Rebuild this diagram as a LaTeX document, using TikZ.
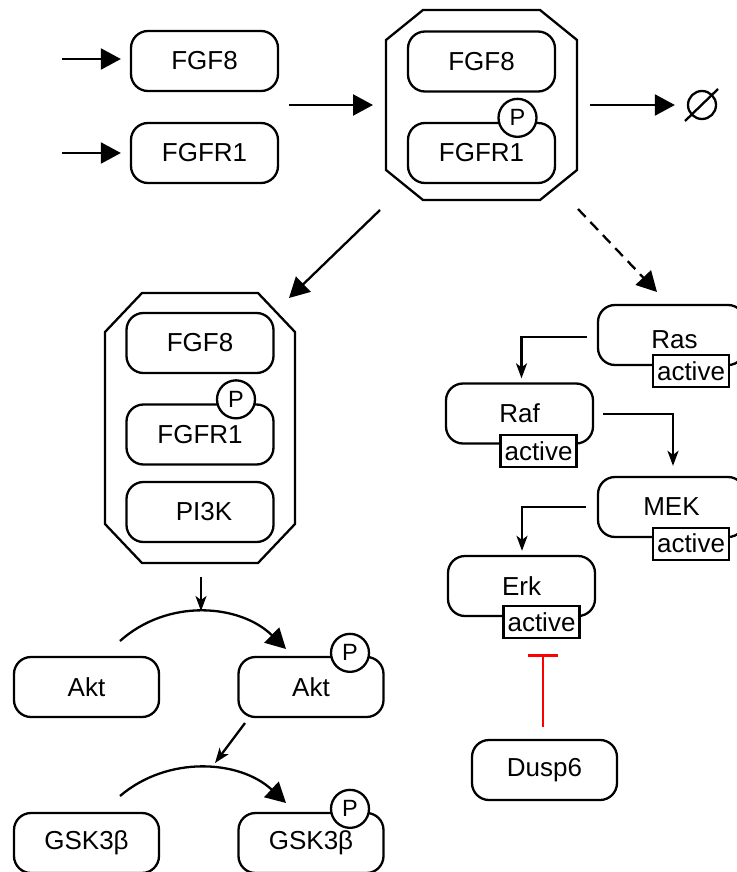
\documentclass[tikz,border=0pt]{standalone}
\usepackage{fontspec}
\setmainfont{Liberation Sans}
\usetikzlibrary{arrows.meta,calc}
\begin{document}
\begin{tikzpicture}[x=1pt,y=-1pt,
  every node/.style={font=\fontsize{26}{30}\selectfont},
  species/.style={draw, rounded corners=17pt, line width=2.3pt, minimum width=147pt, minimum height=60pt, inner sep=0pt, fill=white},
  pcirc/.style={draw, circle, line width=2.3pt, fill=white, minimum size=38pt, inner sep=0pt, font=\fontsize{23.5}{26}\selectfont},
  actbox/.style={draw, rectangle, line width=2.3pt, fill=white, inner xsep=4pt, inner ysep=0pt, minimum height=32pt},
  cplx/.style={line width=2.3pt, line join=miter},
  bigarr/.style={line width=2.3pt, -{Triangle[length=20pt,width=21pt]}},
  smallarr/.style={line width=2.3pt, -{Stealth[length=15pt,width=11pt,inset=4pt]}},
  inhib/.style={line width=2.3pt, draw=red, -{Bar[width=30pt]}},
]
\useasboundingbox (0,0) rectangle (736,872);

% ---------- top left inputs ----------
\node[species] (fgf8a) at (204.5,61) {FGF8};
\node[species] (fgfr1a) at (204.5,153) {FGFR1};
\coordinate (in1) at (62,59);
\coordinate (in2) at (62,153);
\draw[bigarr] (in1) -- ($(fgf8a.west)+(-9,-2)$);
\draw[bigarr] (in2) -- ($(fgfr1a.west)+(-9,0)$);

% ---------- top complex ----------
\draw[cplx] (423,10) -- (540,10) -- (577,40) -- (577,170) -- (540,200) -- (423,200) -- (386,170) -- (386,40) -- cycle;
\coordinate (cx1w) at (373,105);
\coordinate (cx1e) at (590,105);
\coordinate (cx1sw) at (380,210);
\coordinate (cx1se) at (578,209);
\node[species] (fgf8b) at (481.5,61.5) {FGF8};
\node[species] (fgfr1b) at (481.5,153) {FGFR1};
\node[pcirc] (pb) at ($(fgfr1b.north)+(36,-4)$) {P};
\coordinate (bind) at (289,105);
\draw[bigarr] (bind) -- (cx1w);

% degradation
\node[circle, draw, line width=2.3pt, minimum size=28pt, inner sep=0pt] (sink) at (702,105) {};
\draw[line width=2.3pt] (685,121) -- (718,89);
\draw[bigarr] (cx1e) -- ($(sink.west)+(-12,0)$);

% ---------- left complex ----------
\coordinate (cx2tip) at (289,298);
\draw[bigarr] (cx1sw) -- (cx2tip);
\draw[cplx] (142,293) -- (258,293) -- (295,332) -- (295,524) -- (258,563) -- (142,563) -- (105,524) -- (105,332) -- cycle;
\node[species] (fgf8c) at (200,343) {FGF8};
\node[species] (fgfr1c) at (200,434.5) {FGFR1};
\node[pcirc] (pc) at ($(fgfr1c.north)+(36,-4)$) {P};
\node[species] (pi3k) at (200,512) {\hspace{8pt}PI3K};

% ---------- Akt ----------
\node[species, minimum width=145pt] (akt) at (86.5,687) {Akt};
\node[species, minimum width=145pt] (aktp) at (311,687) {Akt};
\node[pcirc] (pakt) at ($(aktp.north)+(39,-3)$) {P};
\coordinate (cx2s) at (201,577);
\coordinate (arc1mid) at (201,611);
\draw[smallarr] (cx2s) -- (arc1mid);
\coordinate (arc1s) at (120,641);
\coordinate (arc1e) at (286,649);
\draw[bigarr] (arc1s) .. controls (168,598) and (240,604) .. (arc1e);

% ---------- GSK3b ----------
\node[species, minimum width=145pt] (gsk) at (86.5,843) {GSK3β};
\node[species, minimum width=145pt] (gskp) at (311,843) {GSK3β};
\node[pcirc] (pgsk) at ($(gskp.north)+(39,-3)$) {P};
\coordinate (aktps) at (245,723);
\coordinate (arc2mid) at (215,763);
\draw[smallarr] (aktps) -- (arc2mid);
\coordinate (arc2s) at (120,796);
\coordinate (arc2e) at (286,803);
\draw[bigarr] (arc2s) .. controls (168,755) and (240,760) .. (arc2e);

% ---------- MAPK chain ----------
\coordinate (rastip) at (657,292);
\draw[bigarr, dash pattern=on 11pt off 7pt] (cx1se) -- (rastip);

\node[species] (ras) at (671.5,335) {};
\node (rastxt) at ($(ras.center)+(3,5)$) {Ras};
\node[actbox] (rasact) at ($(ras.south)+(19.5,5)$) {active};
\node[species] (raf) at (519.5,413.5) {Raf};
\node[actbox] (rafact) at ($(raf.south)+(19,6.5)$) {active};
\node[species] (mek) at (671.5,507) {MEK};
\node[actbox] (mekact) at ($(mek.south)+(19.5,5.5)$) {active};
\node[species] (erk) at (521.5,586) {Erk};
\node[actbox] (erkact) at ($(erk.south)+(20,5)$) {active};

\draw[smallarr] ($(ras.west)+(-10,2)$) -| ($(raf.north)+(2,-4)$);
\draw[smallarr] ($(raf.east)+(9,0.5)$) -| ($(mek.north)+(1.5,-10)$);
\draw[smallarr] ($(mek.west)+(-11,0)$) -| ($(erk.north)+(0.5,-4)$);

% ---------- Dusp6 ----------
\node[species, minimum width=145pt] (dusp) at (544.5,770) {Dusp6};
\draw[inhib] ($(dusp.north)+(-1.5,-12)$) -- ($(erkact.south)+(1.5,15)$);

\end{tikzpicture}
\end{document}
